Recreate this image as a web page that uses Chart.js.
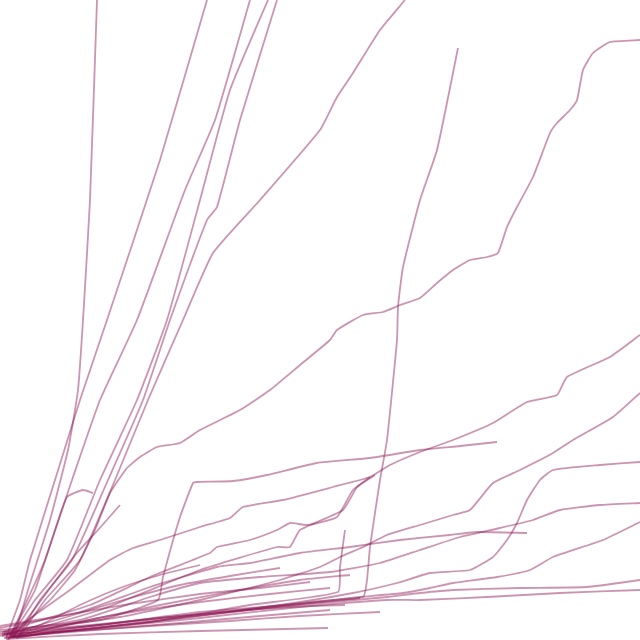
<!DOCTYPE html>
<html>
<head>
<meta charset="utf-8">
<script src="https://cdn.jsdelivr.net/npm/chart.js@4/dist/chart.umd.min.js"></script>
<style>
  html, body { margin: 0; padding: 0; background: #ffffff; }
  #wrap { width: 640px; height: 640px; }
</style>
</head>
<body>
<div id="wrap"><canvas id="c" width="640" height="640"></canvas></div>
<script>
// Each series: [x, y] value pairs
const s01 = [[14,2],[28,50],[50,120],[68,190],[78,250],[83,320],[90,440],[97,640]];
const s02 = [[6,2],[20,40],[30,80],[55,160],[80,240],[107,320],[160,480],[207,640]];
const s03 = [[8,0],[25,35],[45,80],[72,160],[100,240],[137,320],[185,450],[215,520],[250,640]];
const s04 = [[10,2],[35,40],[67,80],[100,160],[137,240],[167,320],[200,440],[230,550],[268,640]];
const s05 = [[18,3],[40,40],[72,80],[108,160],[143,240],[170,320],[207,420],[217,433],[240,520],[277,640]];
const s06 = [[20,4],[45,40],[80,80],[115,160],[148,240],[183,320],[213,387],[260,440],[320,510],[337,543],[353,567],[380,610],[405,640]];
const s07 = [[4,6],[100,15],[200,28],[300,36],[363,43],[367,60],[370,93],[380,160],[387,200],[397,300],[398,333],[403,373],[420,440],[437,490],[458,592]];
const s08 = [[12,4],[50,40],[75,70],[95,110],[110,147],[127,172],[140,183],[157,193],[180,197],[200,210],[240,230],[270,250],[300,275],[330,300],[337,310],[363,325],[383,328],[400,335],[420,342],[437,357],[453,370],[470,380],[487,383],[498,387],[507,413],[517,433],[533,463],[550,507],[557,517],[570,530],[577,540],[583,570],[593,587],[610,598],[640,600]];
const s09 = [[8,6],[70,50],[110,80],[133,92],[160,100],[200,113],[230,122],[243,133],[283,140],[333,153],[370,163],[390,175],[420,188],[453,200],[493,217],[527,238],[557,245],[567,263],[610,283],[640,305]];
const s10 = [[0,10],[100,20],[158,40],[163,63],[180,123],[193,157],[197,158],[233,159],[267,165],[317,177],[370,182],[420,190],[460,194],[497,198]];
const s11 = [[0,6],[120,23],[200,40],[280,60],[320,73],[340,83],[363,93],[387,105],[420,115],[453,125],[470,130],[493,157],[520,170],[553,187],[573,200],[613,223],[640,247]];
const s12 = [[6,3],[150,18],[280,35],[353,47],[397,57],[430,67],[470,70],[493,83],[507,100],[517,117],[527,140],[540,160],[553,170],[600,175],[640,178]];
const s13 = [[4,8],[80,20],[150,43],[200,57],[260,63],[330,68],[380,77],[420,90],[460,103],[500,112],[533,120],[560,130],[600,135],[640,137]];
const s14 = [[0,12],[80,28],[150,53],[217,73],[250,77],[300,87],[350,93],[400,100],[450,105],[477,108],[527,107]];
const s15 = [[10,3],[120,15],[250,30],[350,42],[403,47],[430,52],[453,57],[497,63],[530,70],[553,83],[603,100],[640,118]];
const s16 = [[2,4],[100,15],[200,25],[300,35],[387,43],[420,47],[453,50],[520,52],[587,53],[640,60]];
const s17 = [[8,2],[100,12],[200,22],[300,33],[387,40],[420,40],[487,43],[560,47],[640,50]];
const s18 = [[14,3],[150,18],[250,35],[338,48],[340,73],[345,110]];
const s19 = [[6,1],[100,6],[200,9],[328,12]];
const s20 = [[2,8],[90,35],[150,63],[210,87],[217,93],[250,100],[277,110],[290,117],[307,115],[337,123],[353,150],[375,165]];
const s21 = [[10,4],[100,30],[200,70],[277,93],[290,93],[300,110],[343,130],[357,153],[370,163]];
const s22 = [[12,3],[80,18],[160,35],[240,50],[300,60],[350,65]];
const s23 = [[16,2],[60,10],[140,20],[220,28],[290,33],[345,35]];
const s24 = [[6,5],[70,24],[130,42],[180,55],[230,64],[280,72]];
const s25 = [[12,3],[60,14],[120,26],[200,38],[270,46],[330,52]];
const s26 = [[0,4],[40,15],[80,35],[120,52],[160,65],[200,75]];
const s27 = [[14,4],[45,45],[75,85],[98,110],[120,135]];
const s28 = [[10,4],[35,50],[55,110],[67,143],[83,150],[93,147]];
const s29 = [[0,8],[80,14],[160,22],[240,30],[310,38],[360,42]];
const s30 = [[2,6],[90,10],[180,17],[260,24],[330,30]];
const s31 = [[0,14],[60,24],[130,36],[200,46],[260,52],[310,58]];
const s32 = [[4,2],[70,8],[150,14],[230,19],[300,24],[380,28]];

const seriesList = [s01,s02,s03,s04,s05,s06,s07,s08,s09,s10,s11,s12,s13,s14,s15,s16,s17,s18,s19,s20,s21,s22,s23,s24,s25,s26,s27,s28,s29,s30,s31,s32];

const lineColor = 'rgba(140, 20, 82, 0.45)';

const datasets = seriesList.map(s => ({
  data: s.map(p => ({ x: p[0], y: p[1] })),
  showLine: true,
  borderColor: lineColor,
  borderWidth: 1.8,
  pointRadius: 0,
  tension: 0.15,
  fill: false
}));

new Chart(document.getElementById('c'), {
  type: 'scatter',
  data: { datasets },
  options: {
    responsive: false,
    devicePixelRatio: 1,
    animation: false,
    layout: { padding: 0 },
    plugins: { legend: { display: false }, tooltip: { enabled: false } },
    scales: {
      x: { type: 'linear', min: 0, max: 640, display: false },
      y: { type: 'linear', min: 0, max: 640, display: false }
    }
  }
});
</script>
</body>
</html>
